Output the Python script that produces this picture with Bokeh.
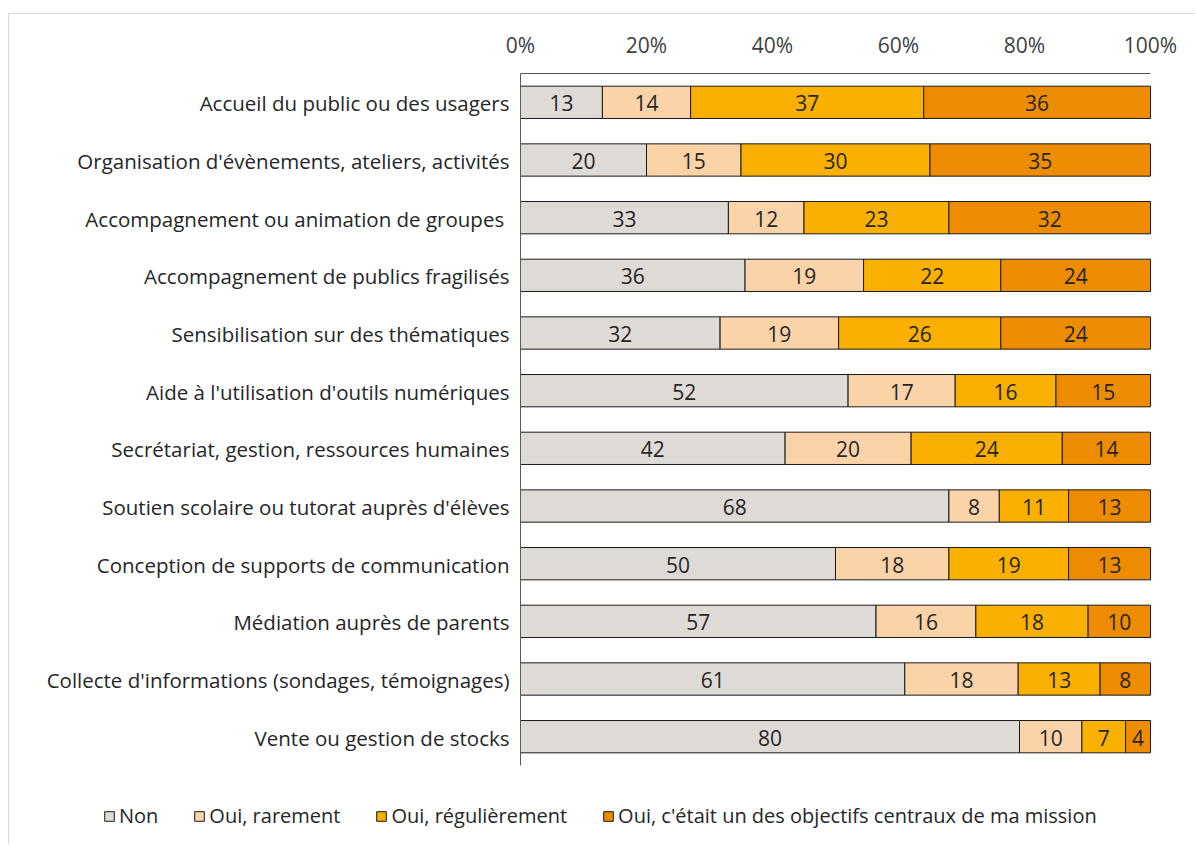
from bokeh.plotting import figure
from bokeh.models import (FixedTicker, PrintfTickFormatter, Legend,
                          LegendItem, ColumnDataSource, Range1d)
from bokeh.core.properties import value
from bokeh.embed import file_html
from bokeh.resources import INLINE

activities = [
    "Accueil du public ou des usagers",
    "Organisation d'évènements, ateliers, activités",
    "Accompagnement ou animation de groupes ",
    "Accompagnement de publics fragilisés",
    "Sensibilisation sur des thématiques",
    "Aide à l'utilisation d'outils numériques",
    "Secrétariat, gestion, ressources humaines",
    "Soutien scolaire ou tutorat auprès d'élèves",
    "Conception de supports de communication",
    "Médiation auprès de parents",
    "Collecte d'informations (sondages, témoignages)",
    "Vente ou gestion de stocks",
]

non = [13, 20, 33, 36, 32, 52, 42, 68, 50, 57, 61, 80]
rarement = [14, 15, 12, 19, 19, 17, 20, 8, 18, 16, 18, 10]
regulierement = [37, 30, 23, 22, 26, 16, 24, 11, 19, 18, 13, 7]
central = [36, 35, 32, 24, 24, 15, 14, 13, 13, 10, 8, 4]

series_names = ["Non", "Oui, rarement", "Oui, régulièrement",
                "Oui, c'était un des objectifs centraux de ma mission"]
series_values = [non, rarement, regulierement, central]
colors = ["#DEDBD7", "#FAD3A8", "#F9B000", "#EE8C00"]

tick_values = [0, 20, 40, 60, 80, 100]

FONT = "Open Sans"
TEXT = "#262626"
EDGE = "#1a1a1a"
AXIS = "#595959"

# Canvas geometry (pixels). The frame spans the whole canvas width and runs
# down to the bottom so that category labels and the legend live inside it.
W, H = 1187, 831
TOP = 59            # space for the percentage labels above the bars
BAR_X0 = 511        # canvas x of the 0% line
BAR_W = 630         # pixels from 0% to 100%
ROW_H = 692 / len(activities)

px_per_pct = BAR_W / 100
x_start = -BAR_X0 / px_per_pct
x_end = 100 + (W - BAR_X0 - BAR_W) / px_per_pct
y_top = -0.5
y_bottom = y_top + (H - TOP) / ROW_H

p = figure(width=W, height=H, output_backend="svg", toolbar_location=None,
           x_range=Range1d(x_start, x_end), y_range=Range1d(y_bottom, y_top),
           x_axis_location="above", y_axis_location=None,
           min_border_left=0, min_border_right=0, min_border_top=TOP,
           min_border_bottom=0)
p.styles = {"margin-left": "8px", "margin-top": "13px",
            "border-left": "1px solid #d9d9d9", "border-top": "1px solid #d9d9d9"}
p.outline_line_color = None
p.grid.visible = False
p.background_fill_color = "white"
p.border_fill_color = "white"

rows = list(range(len(activities)))

# 100% stacked: each row is scaled by its own total
totals = [sum(vals) for vals in zip(*series_values)]
left = [0.0] * len(activities)
items = []
for name, vals, col in zip(series_names, series_values, colors):
    widths = [v / t * 100 for v, t in zip(vals, totals)]
    right = [l + w for l, w in zip(left, widths)]
    src = ColumnDataSource(dict(y=rows, left=left, right=right,
                                mid=[(l + r) / 2 for l, r in zip(left, right)],
                                lab=[str(v) for v in vals]))
    r = p.hbar(y="y", left="left", right="right", height=0.56, source=src,
               fill_color=col, line_color=EDGE, line_width=1)
    p.text(x="mid", y="y", text="lab", source=src, text_align="center",
           text_baseline="middle", text_font=value(FONT),
           text_font_size="21px", text_color=TEXT, y_offset=1)
    items.append(LegendItem(label=name, renderers=[r]))
    left = right

# category labels and the vertical axis line at 0%
p.text(x=[0] * len(activities), y=rows, text=activities, x_offset=-11,
       text_align="right", text_baseline="middle", text_font=value(FONT),
       text_font_size="20.5px", text_color=TEXT, y_offset=1)
p.segment(x0=[0], y0=[y_top], x1=[0], y1=[len(activities) - 0.5],
          line_color=AXIS, line_width=1)

xa = p.xaxis[0]
xa.bounds = (0, 100)
xa.ticker = FixedTicker(ticks=tick_values)
xa.formatter = PrintfTickFormatter(format="%d%%")
xa.major_tick_out = 0
xa.major_tick_in = 0
xa.minor_tick_out = 0
xa.minor_tick_in = 0
xa.axis_line_color = AXIS
xa.major_label_standoff = 15
xa.major_label_text_font = FONT
xa.major_label_text_font_size = "21px"
xa.major_label_text_color = "#404040"

legend = Legend(items=items, orientation="horizontal", location=(94, 16),
                glyph_width=12, glyph_height=12, label_standoff=4, spacing=35,
                padding=0, margin=0, border_line_color=None,
                background_fill_alpha=0, label_text_font=FONT,
                label_text_font_size="20px", label_text_color=TEXT)
p.add_layout(legend, "center")

open("out.html", "w").write(file_html(p, INLINE))
